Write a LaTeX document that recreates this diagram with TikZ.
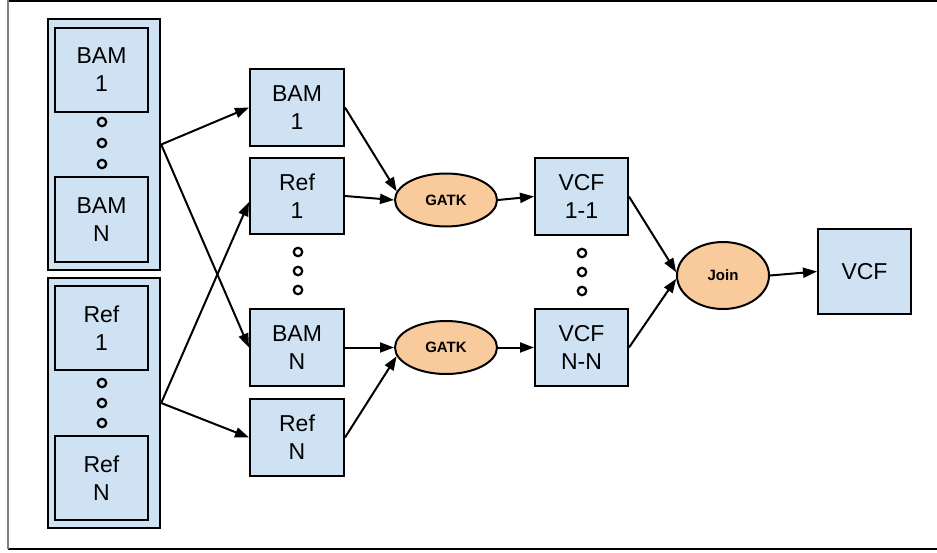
\documentclass[tikz,border=0pt]{standalone}
\usepackage{fontspec}
\setmainfont{Liberation Sans}
\usetikzlibrary{shapes.geometric,arrows.meta}
\definecolor{boxblue}{HTML}{CFE2F3}
\definecolor{tool}{HTML}{F9CB9C}
\tikzset{
  boxnode/.style={draw=black,line width=2pt,fill=boxblue,inner sep=0pt,align=center,
    font=\fontsize{23}{28}\selectfont},
  groupnode/.style={draw=black,line width=2.4pt,fill=boxblue,inner sep=0pt},
  toolnode/.style={ellipse,draw=black,line width=2pt,fill=tool,inner sep=0pt,
    font=\bfseries\fontsize{15}{18}\selectfont},
  dot/.style={circle,draw=black,line width=2.2pt,minimum size=8.5pt,inner sep=0pt},
  flow/.style={line width=2pt,-{Triangle[length=14pt,width=10pt]}}
}
\begin{document}
\begin{tikzpicture}[x=1pt,y=-1pt]
\useasboundingbox (0,0) rectangle (937,552);
% frame
\draw[black,line width=1.5pt] (8,0.75) -- (937,0.75);
\draw[black,line width=1.5pt] (8,549) -- (937,549);
\draw[gray,line width=1.2pt] (8,0) -- (8,549);
% left groups
\node[groupnode,minimum width=112pt,minimum height=251pt] (grpA) at (104,144.5) {};
\node[boxnode,minimum width=93pt,minimum height=84pt] (bamA1) at (101.5,70) {BAM\\1};
\node[boxnode,minimum width=93pt,minimum height=85pt] (bamAN) at (101.5,219.5) {BAM\\N};
\node[dot] (dA1) at (102,122) {};
\node[dot] (dA2) at (102,143) {};
\node[dot] (dA3) at (102,164) {};
\node[groupnode,minimum width=112pt,minimum height=250pt] (grpB) at (104,403) {};
\node[boxnode,minimum width=93pt,minimum height=84pt] (refB1) at (101.5,328) {Ref\\1};
\node[boxnode,minimum width=93pt,minimum height=84pt] (refBN) at (101.5,478) {Ref\\N};
\node[dot] (dB1) at (102,383) {};
\node[dot] (dB2) at (102,403) {};
\node[dot] (dB3) at (102,423) {};
% middle column
\node[boxnode,minimum width=94pt,minimum height=77pt] (bam1) at (297,107.5) {BAM\\1};
\node[boxnode,minimum width=94pt,minimum height=76pt] (ref1) at (297,196) {Ref\\1};
\node[dot] (dM1) at (298,252) {};
\node[dot] (dM2) at (298,271) {};
\node[dot] (dM3) at (298,290) {};
\node[boxnode,minimum width=94pt,minimum height=77pt] (bamN) at (297,347.5) {BAM\\N};
\node[boxnode,minimum width=94pt,minimum height=77pt] (refN) at (297,437.5) {Ref\\N};
% GATK
\node[toolnode,minimum width=102pt,minimum height=53pt] (g1) at (446,200) {GATK};
\node[toolnode,minimum width=102pt,minimum height=53pt] (g2) at (446,347.5) {GATK};
% VCF
\node[boxnode,minimum width=93pt,minimum height=77pt] (v11) at (581.5,196.5) {VCF\\1-1};
\node[dot] (dV1) at (582,253) {};
\node[dot] (dV2) at (582,272) {};
\node[dot] (dV3) at (582,291) {};
\node[boxnode,minimum width=93pt,minimum height=77pt] (vNN) at (581.5,347.5) {VCF\\N-N};
\node[toolnode,minimum width=92pt,minimum height=67pt] (join) at (723,275.5) {Join};
\node[boxnode,minimum width=93pt,minimum height=85pt] (vcf) at (864.5,271.5) {VCF};
% connectors
\draw[flow] (grpA.east) -- (bam1.west);
\draw[flow] (grpA.east) -- (bamN.west);
\draw[flow] (grpB.east) -- ([yshift=-6pt]ref1.west);
\draw[flow] (grpB.east) -- (refN.west);
\draw[flow] (bam1.east) -- (g1.170);
\draw[flow] (ref1.east) -- (g1.west);
\draw[flow] (bamN.east) -- (g2.west);
\draw[flow] (refN.east) -- (g2.190);
\draw[flow] (g1.east) -- (v11.west);
\draw[flow] (g2.east) -- (vNN.west);
\draw[flow] (v11.east) -- (join.176);
\draw[flow] (vNN.east) -- (join.184);
\draw[flow] (join.east) -- (vcf.west);
\end{tikzpicture}
\end{document}
